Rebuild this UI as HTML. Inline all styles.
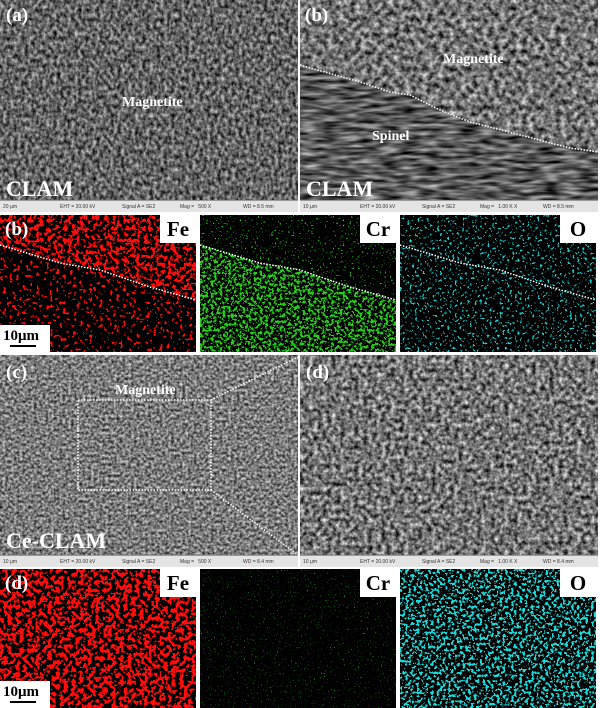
<!DOCTYPE html>
<html><head><meta charset="utf-8"><style>
*{margin:0;padding:0;box-sizing:border-box}
body{width:600px;height:708px;background:#fff;position:relative;overflow:hidden;font-family:"Liberation Serif",serif}
.p{position:absolute;overflow:hidden}
.p svg{position:absolute;left:0;top:0}
.lbl{position:absolute;color:#fff;font-weight:bold;font-size:19px;line-height:1}
.big{position:absolute;color:#fff;font-weight:bold;font-size:22px;line-height:1}
.mid{position:absolute;color:#fff;font-weight:bold;font-size:14px;line-height:1}
.bar{position:absolute;left:0;right:0;bottom:0;height:12px;background:#e4e4e4;border-top:1px solid #999;font-family:"Liberation Sans",sans-serif;font-size:5px;color:#333;white-space:nowrap}
.bar span{position:absolute;top:3px}
.el{position:absolute;background:#fff;color:#000;font-weight:bold;font-size:21px;text-align:center;line-height:28px}
.sc{position:absolute;left:0;background:#fff;color:#000;font-weight:bold;font-size:15px;padding:3px 3px 0 3px;height:27px;width:50px}
.sc i{position:absolute;left:10px;right:14px;bottom:5px;height:2px;background:#000}
</style></head><body>
<svg width="0" height="0" style="position:absolute">
<defs>
<filter id="semA" x="0" y="0" width="100%" height="100%" color-interpolation-filters="sRGB"><feTurbulence type="fractalNoise" baseFrequency="0.28 0.22" numOctaves="3" seed="3"/><feColorMatrix type="matrix" values="1.1 0 0 0 -0.16  1.1 0 0 0 -0.16  1.1 0 0 0 -0.16  0 0 0 0 1"/></filter>
<filter id="semB" x="0" y="0" width="100%" height="100%" color-interpolation-filters="sRGB"><feTurbulence type="fractalNoise" baseFrequency="0.18" numOctaves="3" seed="7"/><feColorMatrix type="matrix" values="1.25 0 0 0 -0.18  1.25 0 0 0 -0.18  1.25 0 0 0 -0.18  0 0 0 0 1"/></filter>
<filter id="semS" x="0" y="0" width="100%" height="100%" color-interpolation-filters="sRGB"><feTurbulence type="fractalNoise" baseFrequency="0.05 0.25" numOctaves="2" seed="5"/><feColorMatrix type="matrix" values="1.1 0 0 0 -0.2  1.1 0 0 0 -0.2  1.1 0 0 0 -0.2  0 0 0 0 1"/></filter>
<filter id="semC" x="0" y="0" width="100%" height="100%" color-interpolation-filters="sRGB"><feTurbulence type="fractalNoise" baseFrequency="0.35" numOctaves="3" seed="11"/><feColorMatrix type="matrix" values="1.1 0 0 0 -0.07  1.1 0 0 0 -0.07  1.1 0 0 0 -0.07  0 0 0 0 1"/></filter>
<filter id="semD" x="0" y="0" width="100%" height="100%" color-interpolation-filters="sRGB"><feTurbulence type="fractalNoise" baseFrequency="0.22" numOctaves="3" seed="13"/><feColorMatrix type="matrix" values="1.3 0 0 0 -0.2  1.3 0 0 0 -0.2  1.3 0 0 0 -0.2  0 0 0 0 1"/></filter>
<filter id="red" x="0" y="0" width="100%" height="100%" color-interpolation-filters="sRGB"><feTurbulence type="fractalNoise" baseFrequency="0.25" numOctaves="2" seed="2"/><feColorMatrix type="matrix" values="0 0 0 0 1  0 0 0 0 0.05  0 0 0 0 0.05  3 0 0 0 -1.2"/><feComponentTransfer><feFuncA type="discrete" tableValues="0 1"/></feComponentTransfer></filter>
<filter id="redB" x="0" y="0" width="100%" height="100%" color-interpolation-filters="sRGB"><feTurbulence type="fractalNoise" baseFrequency="0.25" numOctaves="2" seed="14"/><feColorMatrix type="matrix" values="0 0 0 0 1  0 0 0 0 0.05  0 0 0 0 0.05  3 0 0 0 -1.05"/><feComponentTransfer><feFuncA type="discrete" tableValues="0 1"/></feComponentTransfer></filter>
<filter id="redL" x="0" y="0" width="100%" height="100%" color-interpolation-filters="sRGB"><feTurbulence type="fractalNoise" baseFrequency="0.3" numOctaves="2" seed="4"/><feColorMatrix type="matrix" values="0 0 0 0 1  0 0 0 0 0.05  0 0 0 0 0.05  3 0 0 0 -1.4"/><feComponentTransfer><feFuncA type="discrete" tableValues="0 1"/></feComponentTransfer></filter>
<filter id="grnS" x="0" y="0" width="100%" height="100%" color-interpolation-filters="sRGB"><feTurbulence type="fractalNoise" baseFrequency="0.6" numOctaves="1" seed="6"/><feColorMatrix type="matrix" values="0 0 0 0 0.15  0 0 0 0 0.85  0 0 0 0 0.15  3 0 0 0 -1.55"/><feComponentTransfer><feFuncA type="discrete" tableValues="0 1"/></feComponentTransfer></filter>
<filter id="grnD" x="0" y="0" width="100%" height="100%" color-interpolation-filters="sRGB"><feTurbulence type="fractalNoise" baseFrequency="0.35" numOctaves="2" seed="8"/><feColorMatrix type="matrix" values="0 0 0 0 0.15  0 0 0 0 0.8  0 0 0 0 0.1  3 0 0 0 -1.15"/><feComponentTransfer><feFuncA type="discrete" tableValues="0 1"/></feComponentTransfer></filter>
<filter id="grnV" x="0" y="0" width="100%" height="100%" color-interpolation-filters="sRGB"><feTurbulence type="fractalNoise" baseFrequency="0.7" numOctaves="1" seed="9"/><feColorMatrix type="matrix" values="0 0 0 0 0.1  0 0 0 0 0.55  0 0 0 0 0.1  3 0 0 0 -1.6"/><feComponentTransfer><feFuncA type="discrete" tableValues="0 1"/></feComponentTransfer></filter>
<filter id="cyan" x="0" y="0" width="100%" height="100%" color-interpolation-filters="sRGB"><feTurbulence type="fractalNoise" baseFrequency="0.4" numOctaves="2" seed="10"/><feColorMatrix type="matrix" values="0 0 0 0 0.1  0 0 0 0 0.8  0 0 0 0 0.8  3 0 0 0 -1.45"/><feComponentTransfer><feFuncA type="discrete" tableValues="0 1"/></feComponentTransfer></filter>
<filter id="cyanD" x="0" y="0" width="100%" height="100%" color-interpolation-filters="sRGB"><feTurbulence type="fractalNoise" baseFrequency="0.35" numOctaves="2" seed="12"/><feColorMatrix type="matrix" values="0 0 0 0 0.1  0 0 0 0 0.85  0 0 0 0 0.85  3 0 0 0 -1.18"/><feComponentTransfer><feFuncA type="discrete" tableValues="0 1"/></feComponentTransfer></filter>
</defs></svg>

<div class="p" style="left:0;top:0;width:298px;height:212px">
<svg width="298" height="212"><rect width="298" height="212" filter="url(#semA)"/></svg>
<div class="lbl" style="left:6px;top:6px">(a)</div>
<div class="mid" style="left:122px;top:96px">Magnetite</div>
<div class="big" style="left:6px;top:178px">CLAM</div>
<div class="bar"><span style="left:3px">20 µm</span><span style="left:60px">EHT = 20.00 kV</span><span style="left:122px">Signal A = SE2</span><span style="left:180px">Mag =&nbsp;&nbsp; 500 X</span><span style="left:243px">WD = 8.5 mm</span></div>
</div>
<div class="p" style="left:300px;top:0;width:298px;height:212px;outline:1px dotted #fff;outline-offset:-1px">
<svg width="298" height="212">
<clipPath id="cb"><polygon points="0,65 60,82 90,92 110,95 140,110 170,122 220,135 270,148 298,152 298,212 0,212"/></clipPath>
<rect width="298" height="212" filter="url(#semB)"/>
<rect width="298" height="212" filter="url(#semS)" clip-path="url(#cb)"/>
<polyline points="0,65 60,82 90,92 110,95 140,110 170,122 220,135 270,148 298,152" fill="none" stroke="#fff" stroke-width="1.5" stroke-dasharray="1.5 1.5"/>
</svg>
<div class="lbl" style="left:5px;top:6px">(b)</div>
<div class="mid" style="left:143px;top:53px">Magnetite</div>
<div class="mid" style="left:72px;top:130px">Spinel</div>
<div class="big" style="left:6px;top:178px">CLAM</div>
<div class="bar"><span style="left:3px">10 µm</span><span style="left:60px">EHT = 20.00 kV</span><span style="left:122px">Signal A = SE2</span><span style="left:180px">Mag =&nbsp;&nbsp; 1.00 K X</span><span style="left:243px">WD = 8.5 mm</span></div>
</div>

<div class="p" style="left:0;top:215px;width:196px;height:137px;background:#000">
<svg width="196" height="137">
<clipPath id="u1"><polygon points="0,0 196,0 196,85 150,72 100,55 60,48 0,30"/></clipPath>
<rect width="196" height="137" filter="url(#redL)"/>
<rect width="196" height="137" filter="url(#red)" clip-path="url(#u1)"/>
<polyline points="0,30 60,48 100,55 150,72 196,85" fill="none" stroke="#fff" stroke-width="1.5" stroke-dasharray="1.5 1.5"/>
</svg>
<div class="lbl" style="left:5px;top:5px">(b)</div>
<div class="el" style="left:160px;top:0;width:36px;height:28px">Fe</div>
<div class="sc" style="top:110px">10μm<i></i></div>
</div>
<div class="p" style="left:200px;top:215px;width:196px;height:137px;background:#000">
<svg width="196" height="137">
<clipPath id="u2"><polygon points="0,30 60,48 100,55 150,72 196,85 196,137 0,137"/></clipPath>
<rect width="196" height="137" filter="url(#grnS)"/>
<rect width="196" height="137" filter="url(#grnD)" clip-path="url(#u2)"/>
<polyline points="0,30 60,48 100,55 150,72 196,85" fill="none" stroke="#fff" stroke-width="1.5" stroke-dasharray="1.5 1.5"/>
</svg>
<div class="el" style="left:160px;top:0;width:36px;height:28px">Cr</div>
</div>
<div class="p" style="left:400px;top:215px;width:196px;height:137px;background:#000">
<svg width="196" height="137"><rect width="196" height="137" filter="url(#cyan)"/>
<polyline points="0,30 60,48 100,55 150,72 196,85" fill="none" stroke="#fff" stroke-width="1.5" stroke-dasharray="1.5 1.5"/></svg>
<div class="el" style="left:160px;top:0;width:36px;height:28px">O</div>
</div>

<div class="p" style="left:0;top:355px;width:298px;height:212px">
<svg width="298" height="212"><rect width="298" height="212" filter="url(#semC)"/>
<rect x="78" y="45" width="133" height="90" fill="none" stroke="#fff" stroke-width="1.5" stroke-dasharray="1.5 1.5"/>
<line x1="211" y1="45" x2="298" y2="2" stroke="#fff" stroke-width="1.5" stroke-dasharray="1.5 1.5"/>
<line x1="211" y1="135" x2="298" y2="200" stroke="#fff" stroke-width="1.5" stroke-dasharray="1.5 1.5"/></svg>
<div class="lbl" style="left:6px;top:8px">(c)</div>
<div class="mid" style="left:115px;top:29px">Magnetite</div>
<div class="big" style="left:6px;top:175px">Ce-CLAM</div>
<div class="bar"><span style="left:3px">10 µm</span><span style="left:60px">EHT = 20.00 kV</span><span style="left:122px">Signal A = SE2</span><span style="left:180px">Mag =&nbsp;&nbsp; 500 X</span><span style="left:243px">WD = 8.4 mm</span></div>
</div>
<div class="p" style="left:300px;top:355px;width:298px;height:212px;outline:1px dotted #fff;outline-offset:-1px">
<svg width="298" height="212"><rect width="298" height="212" filter="url(#semD)"/></svg>
<div class="lbl" style="left:6px;top:8px">(d)</div>
<div class="bar"><span style="left:3px">10 µm</span><span style="left:60px">EHT = 20.00 kV</span><span style="left:122px">Signal A = SE2</span><span style="left:180px">Mag =&nbsp;&nbsp; 1.00 K X</span><span style="left:243px">WD = 8.4 mm</span></div>
</div>

<div class="p" style="left:0;top:569px;width:196px;height:139px;background:#000">
<svg width="196" height="139"><rect width="196" height="139" filter="url(#redB)"/></svg>
<div class="lbl" style="left:5px;top:5px">(d)</div>
<div class="el" style="left:160px;top:0;width:36px;height:28px">Fe</div>
<div class="sc" style="top:112px">10μm<i></i></div>
</div>
<div class="p" style="left:200px;top:569px;width:196px;height:139px;background:#000">
<svg width="196" height="139"><rect width="196" height="139" filter="url(#grnV)"/></svg>
<div class="el" style="left:160px;top:0;width:36px;height:28px">Cr</div>
</div>
<div class="p" style="left:400px;top:569px;width:196px;height:139px;background:#000">
<svg width="196" height="139"><rect width="196" height="139" filter="url(#cyanD)"/></svg>
<div class="el" style="left:160px;top:0;width:36px;height:28px">O</div>
</div>
</body></html>
